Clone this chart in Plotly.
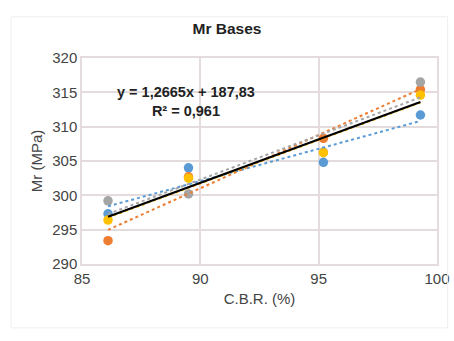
import numpy as np
import plotly.graph_objects as go

cbr = [86.1, 89.5, 95.2, 99.3]
s_blue = [297.3, 304.0, 304.8, 311.7]
s_orange = [293.4, 302.7, 308.3, 315.4]
s_grey = [299.2, 300.2, 306.3, 316.5]
s_yellow = [296.4, 302.5, 306.2, 314.6]

trend_slope = 1.2665
trend_intercept = 187.83

series = [
    ("S1", s_blue, "#5B9BD5"),
    ("S2", s_orange, "#ED7D31"),
    ("S3", s_grey, "#A5A5A5"),
    ("S4", s_yellow, "#FFC000"),
]

eq_text = "y = 1,2665x + 187,83<br>R² = 0,961"
x_ticks = [85, 90, 95, 100]
y_ticks = [290, 295, 300, 305, 310, 315, 320]

fig = go.Figure()
xs = np.array(cbr)
xl = np.array([min(cbr), max(cbr)])

# markers
for name, vals, col in series:
    fig.add_trace(go.Scatter(x=cbr, y=vals, mode="markers", name=name,
                             marker=dict(color=col, size=9.5), showlegend=False))

# per-series dotted trendlines
for name, vals, col in series:
    m, b = np.polyfit(xs, np.array(vals), 1)
    fig.add_trace(go.Scatter(x=xl, y=m * xl + b, mode="lines",
                             line=dict(color=col, width=2, dash="dot"),
                             showlegend=False, hoverinfo="skip"))

# overall trendline (equation shown on chart)
fig.add_trace(go.Scatter(x=xl, y=trend_slope * xl + trend_intercept, mode="lines",
                         line=dict(color="black", width=2.2),
                         showlegend=False, hoverinfo="skip"))

font_fam = "Liberation Sans Narrow, Arial Narrow, Liberation Sans, Arial, sans-serif"

fig.add_annotation(x=89.4, y=313.6, xref="x", yref="y", text="<b>" + eq_text + "</b>",
                   showarrow=False, align="center",
                   font=dict(family=font_fam, size=14.5, color="#222222"))

fig.update_layout(
    width=454, height=341,
    margin=dict(l=82, r=17, t=58, b=77, autoexpand=False),
    paper_bgcolor="white", plot_bgcolor="white",
    title=dict(text="<b>Mr Bases</b>", x=0.5, xanchor="center", y=0.915, yanchor="middle",
               font=dict(family=font_fam, size=15.5, color="#222222")),
    font=dict(family=font_fam, size=15, color="#595959"),
)
fig.update_xaxes(range=[85, 100], tickvals=x_ticks, showgrid=True, gridcolor="#E4DCDC",
                 gridwidth=1.5, showline=True, linecolor="#E4DCDC", linewidth=1.5, mirror=True,
                 zeroline=False, ticks="", automargin=False,
                 title=dict(text="C.B.R. (%)", standoff=8, font=dict(size=15, color="#444444")),
                 tickfont=dict(size=15, color="#444444"))
fig.update_yaxes(range=[290, 320], tickvals=y_ticks, showgrid=True, gridcolor="#E4DCDC",
                 gridwidth=1.5, showline=True, linecolor="#E4DCDC", linewidth=1.5, mirror=True,
                 zeroline=False, ticks="", automargin=False,
                 title=dict(text="Mr (MPa)", standoff=6, font=dict(size=15, color="#444444")),
                 tickfont=dict(size=15, color="#444444"))

fig.add_shape(type="rect", xref="paper", yref="paper", x0=-0.2, x1=1.03, y0=-0.31, y1=1.2,
              line=dict(color="#EEEEEE", width=1))

fig.write_html("out.html", config={"displayModeBar": False},
               post_script="document.body.style.margin='0';document.body.style.overflow='hidden';")
